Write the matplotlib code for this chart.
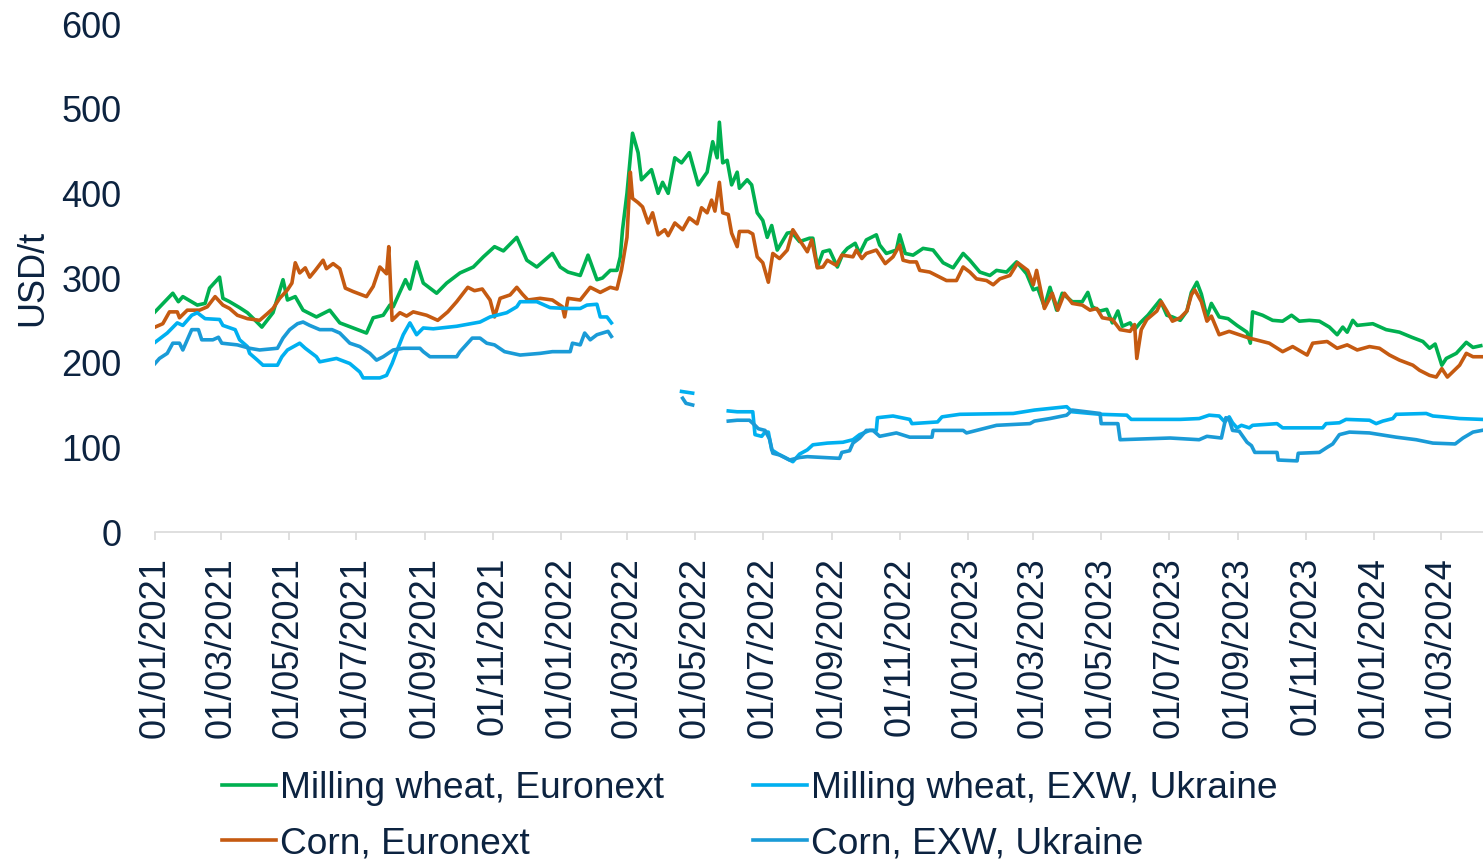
import numpy as np
import pandas as pd
import matplotlib
matplotlib.use("Agg")
import matplotlib.pyplot as plt
import matplotlib.dates as mdates

plt.rcParams['font.family'] = ['Liberation Sans', 'DejaVu Sans']

start = pd.Timestamp('2021-01-01')

# days since 01/01/2021, USD/t
wheat_eu_day = [0, 16, 21, 25, 38, 45, 49, 58, 61, 67, 76, 83, 90, 96, 106, 115, 119, 126, 133, 145,
                157, 166, 178, 190, 196, 205, 211, 214, 225, 229, 235, 241, 253, 262, 274, 286, 295, 305,
                313, 325, 334, 343, 357, 364, 371, 382, 389, 397, 402, 409, 415, 418, 420, 424, 429, 434,
                437, 446, 452, 456, 461, 467, 473, 480, 488, 496, 501, 505, 507, 510, 514, 518, 523, 525,
                532, 536, 541, 546, 550, 554, 559, 568, 572, 579, 588, 591, 595, 600, 606, 613, 618, 622,
                629, 633, 639, 648, 651, 657, 666, 669, 674, 681, 690, 699, 708, 717, 726, 732, 741, 750,
                756, 765, 774, 783, 789, 793, 799, 804, 810, 815, 824, 833, 838, 842, 849, 855, 860, 865,
                869, 876, 880, 885, 892, 903, 909, 914, 921, 927, 931, 936, 940, 945, 949, 956, 964, 972,
                981, 984, 986, 995, 1004, 1013, 1021, 1028, 1037, 1046, 1055, 1062, 1067, 1071, 1076,
                1080, 1094, 1106, 1118, 1129, 1139, 1145, 1150, 1156, 1160, 1169, 1178, 1184, 1191]
wheat_eu_usd = [260, 282, 272, 278, 268, 270, 288, 301, 276, 272, 265, 259, 250, 242, 259, 298, 274, 278, 262, 254,
                262, 247, 241, 235, 253, 256, 268, 266, 298, 287, 319, 294, 282, 294, 306, 313, 325, 337,
                332, 348, 321, 313, 329, 313, 307, 303, 327, 298, 300, 309, 309, 325, 357, 400, 471, 448,
                416, 428, 400, 413, 400, 442, 436, 448, 410, 425, 461, 442, 484, 436, 439, 410, 425, 406,
                416, 410, 377, 368, 348, 362, 333, 353, 354, 343, 347, 347, 313, 331, 333, 313, 329, 335,
                341, 329, 345, 351, 339, 329, 333, 351, 329, 327, 335, 333, 318, 312, 329, 321, 307, 303,
                309, 307, 319, 305, 286, 288, 266, 289, 262, 282, 272, 272, 283, 266, 261, 263, 247, 261,
                243, 247, 239, 247, 256, 274, 256, 254, 250, 261, 283, 295, 281, 254, 270, 254, 252, 244,
                236, 223, 260, 256, 250, 249, 256, 249, 250, 249, 242, 233, 242, 236, 250,
                244, 246, 239, 236, 230, 225, 217, 222, 197, 205, 211, 224, 218, 220]

corn_eu_day = [0, 7, 13, 20, 22, 29, 40, 47, 54, 61, 67, 74, 83, 94, 101, 106, 112, 119, 123, 126, 130, 135,
               139, 144, 151, 154, 160, 166, 171, 178, 186, 190, 196, 202, 208, 210, 213, 220, 226, 232,
               244, 254, 263, 271, 281, 287, 294, 301, 305, 310, 319, 325, 330, 335, 346, 357, 366, 368,
               371, 382, 391, 400, 409, 415, 419, 424, 427, 429, 434, 438, 443, 447, 452, 458, 461, 467,
               474, 480, 487, 491, 496, 500, 503, 507, 510, 515, 518, 523, 525, 533, 537, 541, 546, 551,
               555, 561, 568, 573, 579, 586, 590, 595, 600, 604, 612, 617, 627, 630, 635, 639, 648, 656,
               663, 669, 672, 678, 684, 687, 696, 705, 711, 720, 726, 732, 738, 747, 753, 759, 768, 775,
               784, 789, 792, 799, 806, 811, 817, 824, 833, 840, 846, 851, 860, 867, 876, 880, 882, 886,
               891, 900, 904, 909, 914, 921, 927, 931, 934, 940, 945, 949, 956, 965, 974, 983, 995, 1001,
               1013, 1022, 1035, 1040, 1053, 1062, 1071, 1080, 1091, 1100, 1109, 1118, 1130, 1136, 1145,
               1151, 1156, 1161, 1172, 1178, 1184, 1192]
corn_eu_usd = [242, 246, 260, 260, 253, 262, 262, 266, 278, 268, 264, 256, 252, 250, 258, 264, 276, 286, 294, 318, 306, 312,
               301, 309, 321, 311, 317, 311, 288, 284, 280, 278, 290, 313, 305, 337, 250, 259, 255, 260,
               256, 250, 260, 272, 289, 285, 287, 274, 254, 276, 280, 289, 281, 274, 276, 274, 266, 254,
               276, 274, 289, 283, 289, 287, 309, 348, 425, 394, 389, 384, 365, 377, 351, 357, 350, 365,
               357, 371, 364, 383, 377, 392, 379, 413, 377, 375, 353, 337, 355, 355, 352, 325, 318, 295,
               329, 323, 333, 357, 345, 331, 345, 312, 313, 321, 315, 327, 325, 333, 323, 329, 333, 317,
               325, 339, 321, 319, 319, 309, 307, 301, 297, 297, 313, 307, 299, 297, 292, 299, 303, 318,
               309, 292, 309, 264, 282, 262, 282, 270, 268, 262, 264, 253, 251, 239, 237, 245, 205, 239,
               251, 261, 272, 261, 249, 253, 261, 280, 286, 272, 249, 255, 233, 237, 233, 229, 225, 223,
               213, 219, 209, 223, 225, 217, 221, 215, 219, 217, 209, 203, 197, 191, 185,
               183, 193, 183, 197, 211, 207, 207]

# EXW Ukraine: None marks missing quotes (spring 2022)
wheat_ua_day = [0, 11, 20, 25, 33, 38, 45, 58, 61, 72, 76, 83, 85, 92, 97, 110, 114, 119, 130, 135, 145, 148,
                163, 175, 184, 187, 202, 208, 213, 217, 223, 229, 235, 241, 250, 271, 292, 301, 316, 325,
                328, 343, 355, 370, 382, 388, 397, 400, 406, 410, 440, 473, 483, 500, 515, 523, 537, 539,
                545, 548, 551, 554, 560, 566, 573, 579, 586, 591, 604, 618, 627, 633, 642, 648, 649, 663,
                678, 680, 703, 707, 723, 771, 790, 819, 824, 849, 873, 877, 921, 938, 947, 956, 961, 965,
                968, 972, 976, 983, 986, 1008, 1013, 1049, 1052, 1064, 1070, 1091, 1097, 1103, 1112, 1115,
                1142, 1148, 1157, 1172, 1192]
wheat_ua_usd = [224, 235, 247, 244, 256, 259, 252, 251, 244, 239, 227, 219, 211, 203, 197, 197, 207, 215, 223, 217, 207, 201,
                205, 199, 189, 182, 182, 185, 199, 213, 233, 247, 233, 241, 240, 243, 248, 254, 259, 266,
                272, 272, 265, 264, 264, 268, 269, 254, 254, 247, None, 166, 164, None, 143, 142, 142, 115,
                113, 118, 118, 97, 92, 88, 83, 92, 97, 103, 105, 106, 109, 115, 120, 120, 135, 137,
                133, 128, 130, 136, 139, 140, 144, 148, 142, 139, 138, 133, 133, 134, 138, 137, 130, 136,
                129, 123, 126, 123, 126, 128, 123, 123, 128, 129, 133, 132, 128, 131, 134, 139,
                140, 137, 136, 134, 133]

corn_ua_day = [0, 4, 11, 16, 22, 25, 30, 33, 39, 42, 52, 57, 60, 74, 85, 94, 110, 115, 121, 128, 133, 139, 148,
               159, 166, 175, 184, 193, 199, 205, 214, 223, 238, 241, 247, 271, 274, 285, 292, 298, 305,
               314, 328, 346, 357, 373, 375, 382, 386, 391, 397, 402, 407, 410, 440, 474, 477, 483, 500,
               515, 523, 534, 539, 542, 548, 552, 555, 561, 570, 579, 586, 615, 617, 624, 627, 633, 639,
               645, 651, 666, 678, 698, 699, 726, 729, 747, 756, 786, 790, 804, 819, 824, 849, 850, 865,
               867, 912, 938, 945, 958, 962, 965, 968, 974, 981, 985, 988, 1008, 1009, 1026, 1027, 1046,
               1053, 1058, 1064, 1073, 1091, 1115, 1133, 1148, 1168, 1175, 1184, 1192]
corn_ua_usd = [199, 205, 211, 223, 223, 215, 230, 239, 239, 227, 227, 230, 223, 221, 217, 215, 217, 229, 239, 246, 248, 244, 239,
               239, 235, 223, 219, 211, 203, 207, 215, 217, 217, 213, 207, 207, 213, 229, 229, 223, 221,
               213, 209, 211, 213, 213, 223, 221, 235, 227, 233, 235, 237, 231, None, 158, 152, 150, None,
               131, 132, 132, 126, 122, 120, 110, 93, 91, 85, 88, 89, 87, 94, 96, 105, 111, 120,
               120, 113, 117, 112, 112, 120, 120, 117, 123, 126, 128, 131, 134, 138, 144, 140, 128, 128,
               109, 111, 109, 113, 111, 135, 133, 120, 119, 106, 102, 94, 94, 85, 84, 93, 94,
               100, 104, 115, 118, 117, 112, 109, 105, 104, 111, 118, 120]

series = [
    ('Milling wheat, Euronext', wheat_eu_day, wheat_eu_usd, '#00B050'),
    ('Corn, Euronext', corn_eu_day, corn_eu_usd, '#C55A11'),
    ('Milling wheat, EXW, Ukraine', wheat_ua_day, wheat_ua_usd, '#00B0F0'),
    ('Corn, EXW, Ukraine', corn_ua_day, corn_ua_usd, '#1A9BD7'),
]

text_col = '#0C2340'

fig = plt.figure(figsize=(14.83, 8.63), dpi=100)
ax = fig.add_axes([155 / 1483, 1 - 532 / 863, 1 - 155 / 1483, (532 - 24) / 863])

for name, days, vals, col in series:
    dates = start + pd.to_timedelta(days, unit='D')
    y = np.array([np.nan if v is None else v for v in vals], dtype=float)
    ax.plot(dates, y, color=col, lw=2.6, label=name)

ax.set_ylim(0, 600)
ax.set_xlim(start, pd.Timestamp('2024-04-08'))
ax.set_yticks(range(0, 601, 100))

ticks = pd.date_range('2021-01-01', '2024-03-01', freq='2MS')
ax.set_xticks(ticks)
ax.xaxis.set_major_formatter(mdates.DateFormatter('%d/%m/%Y'))
plt.setp(ax.get_xticklabels(), rotation=90)

for s in ['top', 'right', 'left']:
    ax.spines[s].set_visible(False)
ax.spines['bottom'].set_color('#D9D9D9')
ax.spines['bottom'].set_linewidth(1.2)
ax.tick_params(axis='x', colors='#D9D9D9', labelcolor=text_col, labelsize=26, length=6, width=1.2, pad=12)
ax.tick_params(axis='y', length=0, labelcolor=text_col, labelsize=26, pad=24)
ax.set_ylabel('USD/t', fontsize=26, color=text_col, labelpad=8)

ax.legend(loc='upper left', bbox_to_anchor=(222 / 1483, 1 - 771 / 863), bbox_transform=fig.transFigure,
          ncol=2, frameon=False, fontsize=26.7, handlelength=1.45, handletextpad=0.12,
          columnspacing=2.4, labelspacing=0.54, borderpad=0, borderaxespad=0,
          labelcolor=text_col)

fig.savefig('out.png', dpi=100)
